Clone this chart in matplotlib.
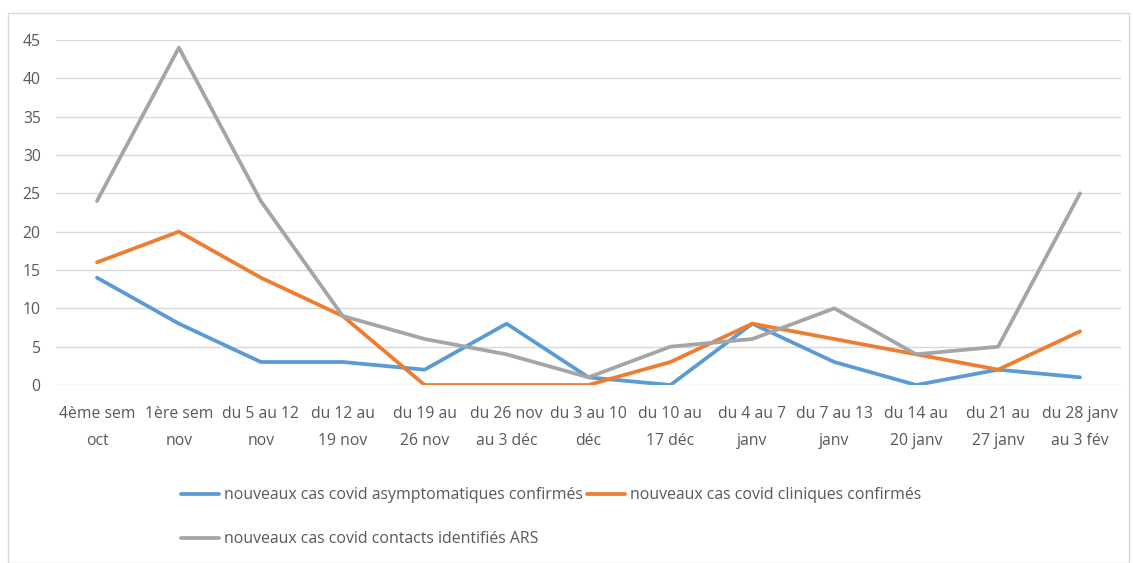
import matplotlib
matplotlib.use("Agg")
import matplotlib.pyplot as plt
from matplotlib import font_manager as fm
from matplotlib.patches import Rectangle

categories = ["4ème sem\noct", "1ère sem\nnov", "du 5 au 12\nnov", "du 12 au\n19 nov",
              "du 19 au\n26 nov", "du 26 nov\nau 3 déc", "du 3 au 10\ndéc", "du 10 au\n17 déc",
              "du 4 au 7\njanv", "du 7 au 13\njanv", "du 14 au\n20 janv", "du 21 au\n27 janv",
              "du 28 janv\nau 3 fév"]
asympto = [14, 8, 3, 3, 2, 8, 1, 0, 8, 3, 0, 2, 1]
cliniques = [16, 20, 14, 9, 0, 0, 0, 3, 8, 6, 4, 2, 7]
contacts = [24, 44, 24, 9, 6, 4, 1, 5, 6, 10, 4, 5, 25]
series_names = ["nouveaux cas covid asymptomatiques confirmés",
                "nouveaux cas covid cliniques confirmés",
                "nouveaux cas covid contacts identifiés ARS"]
yticks = [0, 5, 10, 15, 20, 25, 30, 35, 40, 45]

names = {f.name for f in fm.fontManager.ttflist}
fam = "Liberation Sans Narrow" if "Liberation Sans Narrow" in names else "Open Sans"
plt.rcParams["font.family"] = [fam, "DejaVu Sans"]
tc = "#595959"

fig = plt.figure(figsize=(11.33, 5.63), dpi=100)
fig.patches.append(Rectangle((8/1133, 0), 1 - 12/1133, 1 - 13/563, transform=fig.transFigure,
                             fill=False, edgecolor="#D9D9D9", linewidth=1))
ax = fig.add_axes([56/1133, 1 - 385/563, (1121 - 56)/1133, (385 - 40)/563])

x = list(range(len(categories)))
colors = ["#5B9BD5", "#ED7D31", "#A5A5A5"]
lines = []
for data, c, n in zip([asympto, cliniques, contacts], colors, series_names):
    l, = ax.plot(x, data, color=c, linewidth=2.7, label=n, solid_capstyle="round", zorder=3)
    lines.append(l)

ax.set_xlim(-0.5, len(categories) - 0.5)
ax.set_ylim(0, 45)
ax.set_yticks(yticks)
ax.set_xticks(x)
ax.set_xticklabels(categories, linespacing=1.95)
ax.grid(axis="y", color="#D9D9D9", linewidth=1)
ax.set_axisbelow(True)
for s in ax.spines.values():
    s.set_visible(False)
ax.tick_params(axis="both", length=0, colors=tc, labelsize=11.3)
ax.tick_params(axis="x", pad=15)
ax.tick_params(axis="y", pad=11)

handles = [lines[0], lines[2], lines[1]]
labels = [series_names[0], series_names[2], series_names[1]]
leg = fig.legend(handles, labels, ncol=2, loc="upper left", bbox_to_anchor=(175/1133, 1 - 481/563),
                 frameon=False, fontsize=11.4, labelspacing=1.75, handlelength=2.4,
                 handletextpad=0.3, columnspacing=0.25, borderaxespad=0)
for t in leg.get_texts():
    t.set_color(tc)

fig.savefig("out.png", dpi=100)
